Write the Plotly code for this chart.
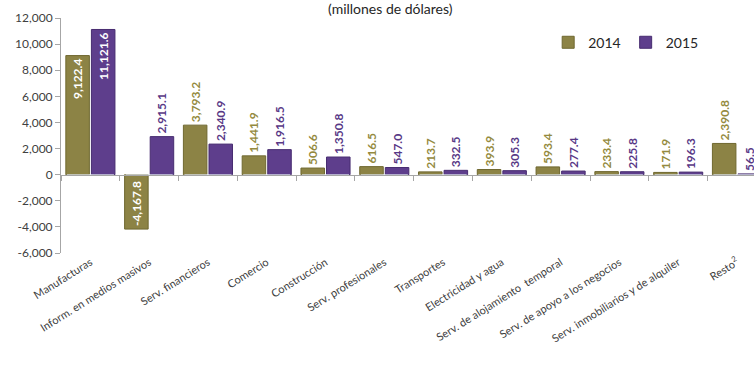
import plotly.graph_objects as go

categories = ["Manufacturas", "Inform. en medios masivos", "Serv. financieros", "Comercio",
              "Construcción", "Serv. profesionales", "Transportes", "Electricidad y agua",
              "Serv. de alojamiento  temporal", "Serv. de apoyo a los negocios",
              "Serv. inmobiliarios y de alquiler", "Resto<sup>2</sup>"]
v2014 = [9122.4, -4167.8, 3793.2, 1441.9, 506.6, 616.5, 213.7, 393.9, 593.4, 233.4, 171.9, 2390.8]
v2015 = [11121.6, 2915.1, 2340.9, 1916.5, 1350.8, 547.0, 332.5, 305.3, 277.4, 225.8, 196.3, 56.5]
y_ticks = [-6000, -4000, -2000, 0, 2000, 4000, 6000, 8000, 10000, 12000]
y_ticktext = ["-6,000", "-4,000", "-2,000", "0", "2,000", "4,000", "6,000", "8,000", "10,000", "12,000"]

c2014 = "#8c8345"
c2015 = "#5e3e8c"
t2014 = "#948a3e"
t2015 = "#583886"
FONT = "Lato, Open Sans, sans-serif"

def fmt(v):
    return f"{v:,.1f}"

fig = go.Figure()
for name, vals, col, lcol, tcol in [("2014", v2014, c2014, "#6f6830", t2014),
                                     ("2015", v2015, c2015, "#472c70", t2015)]:
    fig.add_trace(go.Bar(
        x=categories, y=vals, name=name,
        marker=dict(color=col, line=dict(color=lcol, width=1)),
        text=[fmt(v) for v in vals],
        textposition=[("inside" if abs(v) > 4000 else "outside") for v in vals],
        textangle=-90, insidetextanchor="end", constraintext="none",
        insidetextfont=dict(color="white", family=FONT, size=12, weight="bold"),
        outsidetextfont=dict(color=tcol, family=FONT, size=12, weight="bold"),
        cliponaxis=False,
    ))
# invisible trace to carry the zero-line axis with boundary ticks
fig.add_trace(go.Bar(x=categories, y=[0]*len(categories), xaxis="x2", showlegend=False,
                     marker=dict(color="rgba(0,0,0,0)"), hoverinfo="skip"))

xr = [-0.5, 11.29]
fig.update_layout(
    width=754, height=366,
    margin=dict(l=61, r=0, t=18, b=113),
    paper_bgcolor="white", plot_bgcolor="white",
    barmode="group", bargap=0.13, bargroupgap=0.08,
    font=dict(family=FONT, color="#404040", size=11),
    showlegend=True,
    legend=dict(orientation="h", x=0.703, y=0.895, xanchor="left", yanchor="middle",
                font=dict(size=14, color="#262626", family=FONT), bgcolor="rgba(0,0,0,0)",
                itemwidth=30, tracegroupgap=0),
    xaxis=dict(range=xr, tickangle=-32, showline=False, ticks="", automargin=False,
               tickfont=dict(size=11, color="#404040", family=FONT), showgrid=False),
    xaxis2=dict(range=xr, overlaying="x", anchor="free", position=1/3,
                showline=True, linecolor="#a6a6a6", linewidth=1, ticks="outside",
                tickson="boundaries", ticklen=5, tickcolor="#a6a6a6",
                showticklabels=False, showgrid=False),
    yaxis=dict(range=[-6000, 12000], tickvals=y_ticks, ticktext=y_ticktext,
               showline=True, linecolor="#a6a6a6", ticks="outside", ticklen=5,
               tickcolor="#a6a6a6", showgrid=False, zeroline=False, automargin=False,
               tickfont=dict(size=12, color="#404040", family=FONT)),
    annotations=[dict(text="(millones de dólares)", xref="paper", yref="paper",
                      x=0.476, y=1.0, yshift=10, xanchor="center", yanchor="middle",
                      showarrow=False, font=dict(size=14, color="#262626", family=FONT))],
)
fig.write_html("out.html")
